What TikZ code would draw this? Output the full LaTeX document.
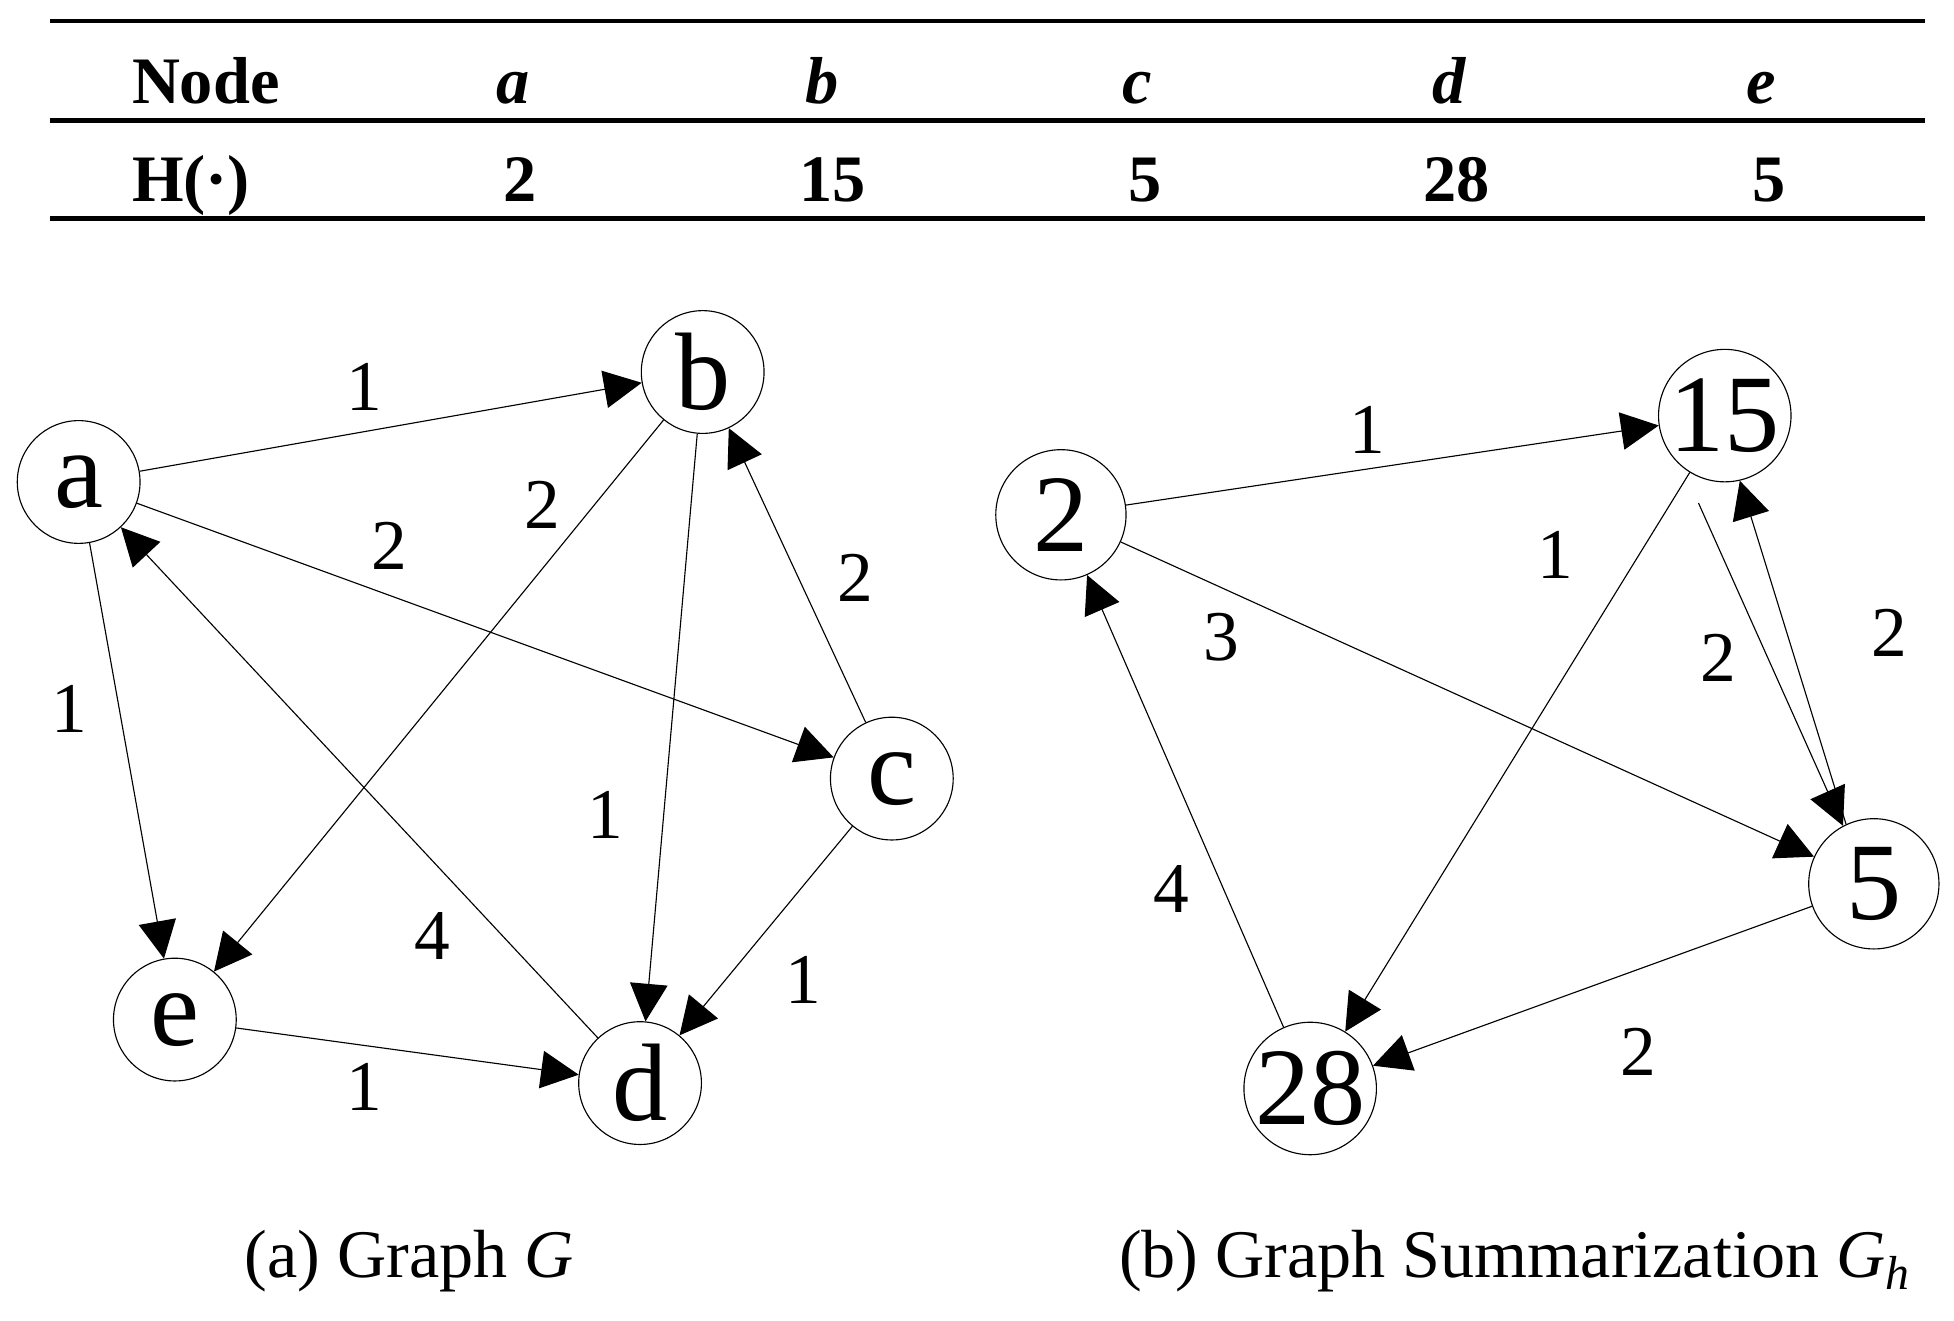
\documentclass[tikz,border=0pt]{standalone}
\usepackage{fontspec}
\setmainfont{Liberation Serif}
\usepackage{tikz}
\usetikzlibrary{arrows.meta}
\definecolor{ink}{HTML}{000000}
\tikzset{
  vtx/.style={circle, draw=ink, line width=0.45pt, inner sep=0pt, minimum size=49pt, font=\fontsize{44}{44}\selectfont},
  vtxh/.style={vtx, minimum size=52pt},
  edg/.style={draw=ink, line width=0.45pt, -{Triangle[length=15pt,width=15pt]}},
  wlab/.style={text=ink, inner sep=0pt, font=\fontsize{28.5}{28.5}\selectfont},
  tab/.style={text=ink, anchor=base, inner sep=0pt, font=\fontsize{26.5}{26.5}\selectfont\bfseries},
  rul/.style={draw=ink, line width=1.8pt},
  captxt/.style={text=ink, anchor=base west, inner sep=0pt, font=\fontsize{27.2}{27.2}\selectfont},
}

\begin{document}
\begin{tikzpicture}[x=0.5pt,y=-0.5pt]
  \useasboundingbox (0,0) rectangle (1560,1054.6);

  % table of H values
  \draw[rul] (40,16.8) -- (1537,16.8);
  \draw[rul] (40,96) -- (1537,96);
  \draw[rul] (40,174.6) -- (1537,174.6);
  \node[tab,anchor=base west] (tNode) at (105,83) {Node};
  \node[tab] (ta) at (410,83) {\textit{a}};
  \node[tab] (tb) at (656,83) {\textit{b}};
  \node[tab] (tc) at (908,83) {\textit{c}};
  \node[tab] (td) at (1157,83) {\textit{d}};
  \node[tab] (te) at (1406,83) {\textit{e}};
  \node[tab,anchor=base west] (tH) at (105,161) {H(·)};
  \node[tab] (t2) at (415,161) {2};
  \node[tab] (t15) at (665,161) {15};
  \node[tab] (t5c) at (914,161) {5};
  \node[tab] (t28) at (1163,161) {28};
  \node[tab] (t5e) at (1412,161) {5};

  % (a) graph G
  \node[vtx] (a) at (62.8,384.8) {a};
  \node[vtx] (b) at (561,297) {b};
  \node[vtx] (c) at (712,621.6) {c};
  \node[vtx] (e) at (139.6,814) {e};
  \node[vtx] (d) at (511,864.7) {d};

  \draw[edg] (a) -- (b);
  \draw[edg] (a) -- (c);
  \draw[edg] (a) -- (e);
  \draw[edg] (b) -- (e);
  \draw[edg] (b) -- (d);
  \draw[edg] (c) -- (b);
  \draw[edg] (c) -- (d);
  \draw[edg] (d) -- (a);
  \draw[edg] (e) -- (d);

  \node[wlab] at (291,309) {1};
  \node[wlab] at (311,436) {2};
  \node[wlab] at (433,403) {2};
  \node[wlab] at (683,461) {2};
  \node[wlab] at (55,566) {1};
  \node[wlab] at (483,651) {1};
  \node[wlab] at (345,747) {4};
  \node[wlab] at (641,782) {1};
  \node[wlab] at (291,868) {1};

  % (b) summarization G_h
  \node[vtxh] (h2) at (847,411) {2};
  \node[vtxh] (h15) at (1377,331.8) {15};
  \node[vtxh] (h5) at (1496,705.6) {5};
  \node[vtxh] (h28) at (1046,869) {28};
  \coordinate (h15off) at (1356,401.6);

  \draw[edg] (h2) -- (h15);
  \draw[edg] (h2) -- (h5);
  \draw[edg] (h15) -- (h28);
  \draw[edg] (h15off) -- (h5.118);
  \draw[edg] (h5.115) -- (h15.-77);
  \draw[edg] (h5) -- (h28);
  \draw[edg] (h28) -- (h2);

  \node[wlab] at (1092,343) {1};
  \node[wlab] at (1242,443) {1};
  \node[wlab] at (975,509) {3};
  \node[wlab] at (1372,525) {2};
  \node[wlab] at (1508,505) {2};
  \node[wlab] at (935,710) {4};
  \node[wlab] at (1308,840) {2};

  % captions
  \node[captxt] (capa) at (195,1020) {(a) Graph \textit{G}};
  \node[captxt] (capb) at (893,1020) {(b) Graph Summarization \textit{G}\textsubscript{\textit{h}}};
\end{tikzpicture}
\end{document}
